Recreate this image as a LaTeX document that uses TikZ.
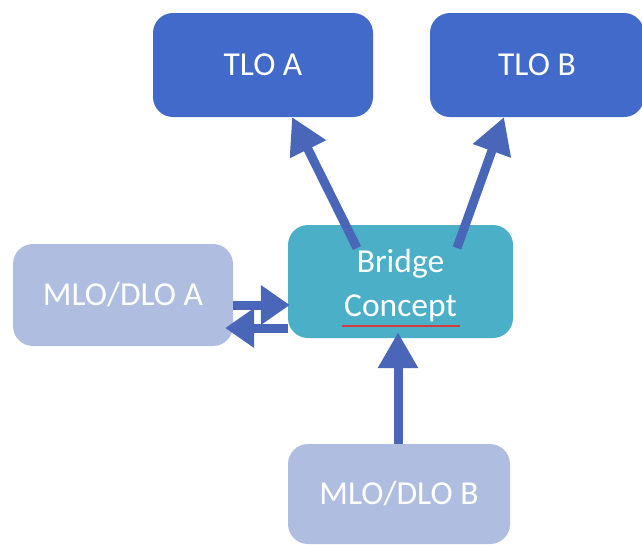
\documentclass[tikz,border=0pt]{standalone}
\usepackage{fontspec}
\setmainfont{Carlito}
\usetikzlibrary{arrows.meta}
\definecolor{tlo}{RGB}{66,106,202}
\definecolor{bridgec}{RGB}{75,175,200}
\definecolor{mlo}{RGB}{175,190,224}
\definecolor{arrc}{RGB}{74,102,184}
\definecolor{spell}{RGB}{215,60,60}
\begin{document}
\begin{tikzpicture}[x=1pt,y=-1pt,
  box/.style={rounded corners=20pt, inner sep=0pt, text=white, align=center,
    font=\fontsize{33.5}{44}\selectfont},
  tlobox/.style={box, fill=tlo, minimum width=220pt, minimum height=104pt},
  mlobox/.style={box, fill=mlo, minimum width=221pt, minimum height=102pt},
  bridgebox/.style={box, fill=bridgec, minimum width=225pt, minimum height=113pt},
  arrbig/.style={draw=arrc, line width=9pt, -{Triangle[length=36pt,width=38pt]}},
  arrsmall/.style={draw=arrc, line width=9pt, -{Triangle[length=29pt,width=38pt]}}]
\useasboundingbox (0,0) rectangle (642,544);
\node[tlobox] (tloA) at (263,65) {TLO A};
\node[tlobox, minimum width=214pt] (tloB) at (537,65) {TLO B};
\node[bridgebox] (bridge) at (400.5,281.5) {\raisebox{-10pt}[0pt][0pt]{\begin{tabular}{@{}c@{}}Bridge\\Concept\end{tabular}}};
\node[mlobox, minimum width=220pt] (mloA) at (123,295) {MLO/DLO A};
\node[mlobox, minimum width=222pt, minimum height=100pt] (mloB) at (399,494) {MLO/DLO B};
% connector anchors
\coordinate (sA) at (357,248);
\coordinate (tA) at (292,117);
\coordinate (sB) at (457,248);
\coordinate (tB) at (504,117);
\coordinate (upY) at (0,305);
\coordinate (loY) at (0,328);
\coordinate (bx) at (398,0);
\draw[arrbig] (sA) -- (tA);
\draw[arrbig] (sB) -- (tB);
\draw[arrsmall] (mloA.east |- upY) -- ([xshift=2pt]bridge.west |- upY);
\draw[arrsmall] (bridge.west |- loY) -- ([xshift=-8pt]mloA.east |- loY);
\draw[arrbig] (bx |- mloB.north) -- ([yshift=6pt]bx |- bridge.south);
% spell-check underline
\draw[spell, line width=1.5pt] (342,326) -- (460,326);
\end{tikzpicture}
\end{document}
